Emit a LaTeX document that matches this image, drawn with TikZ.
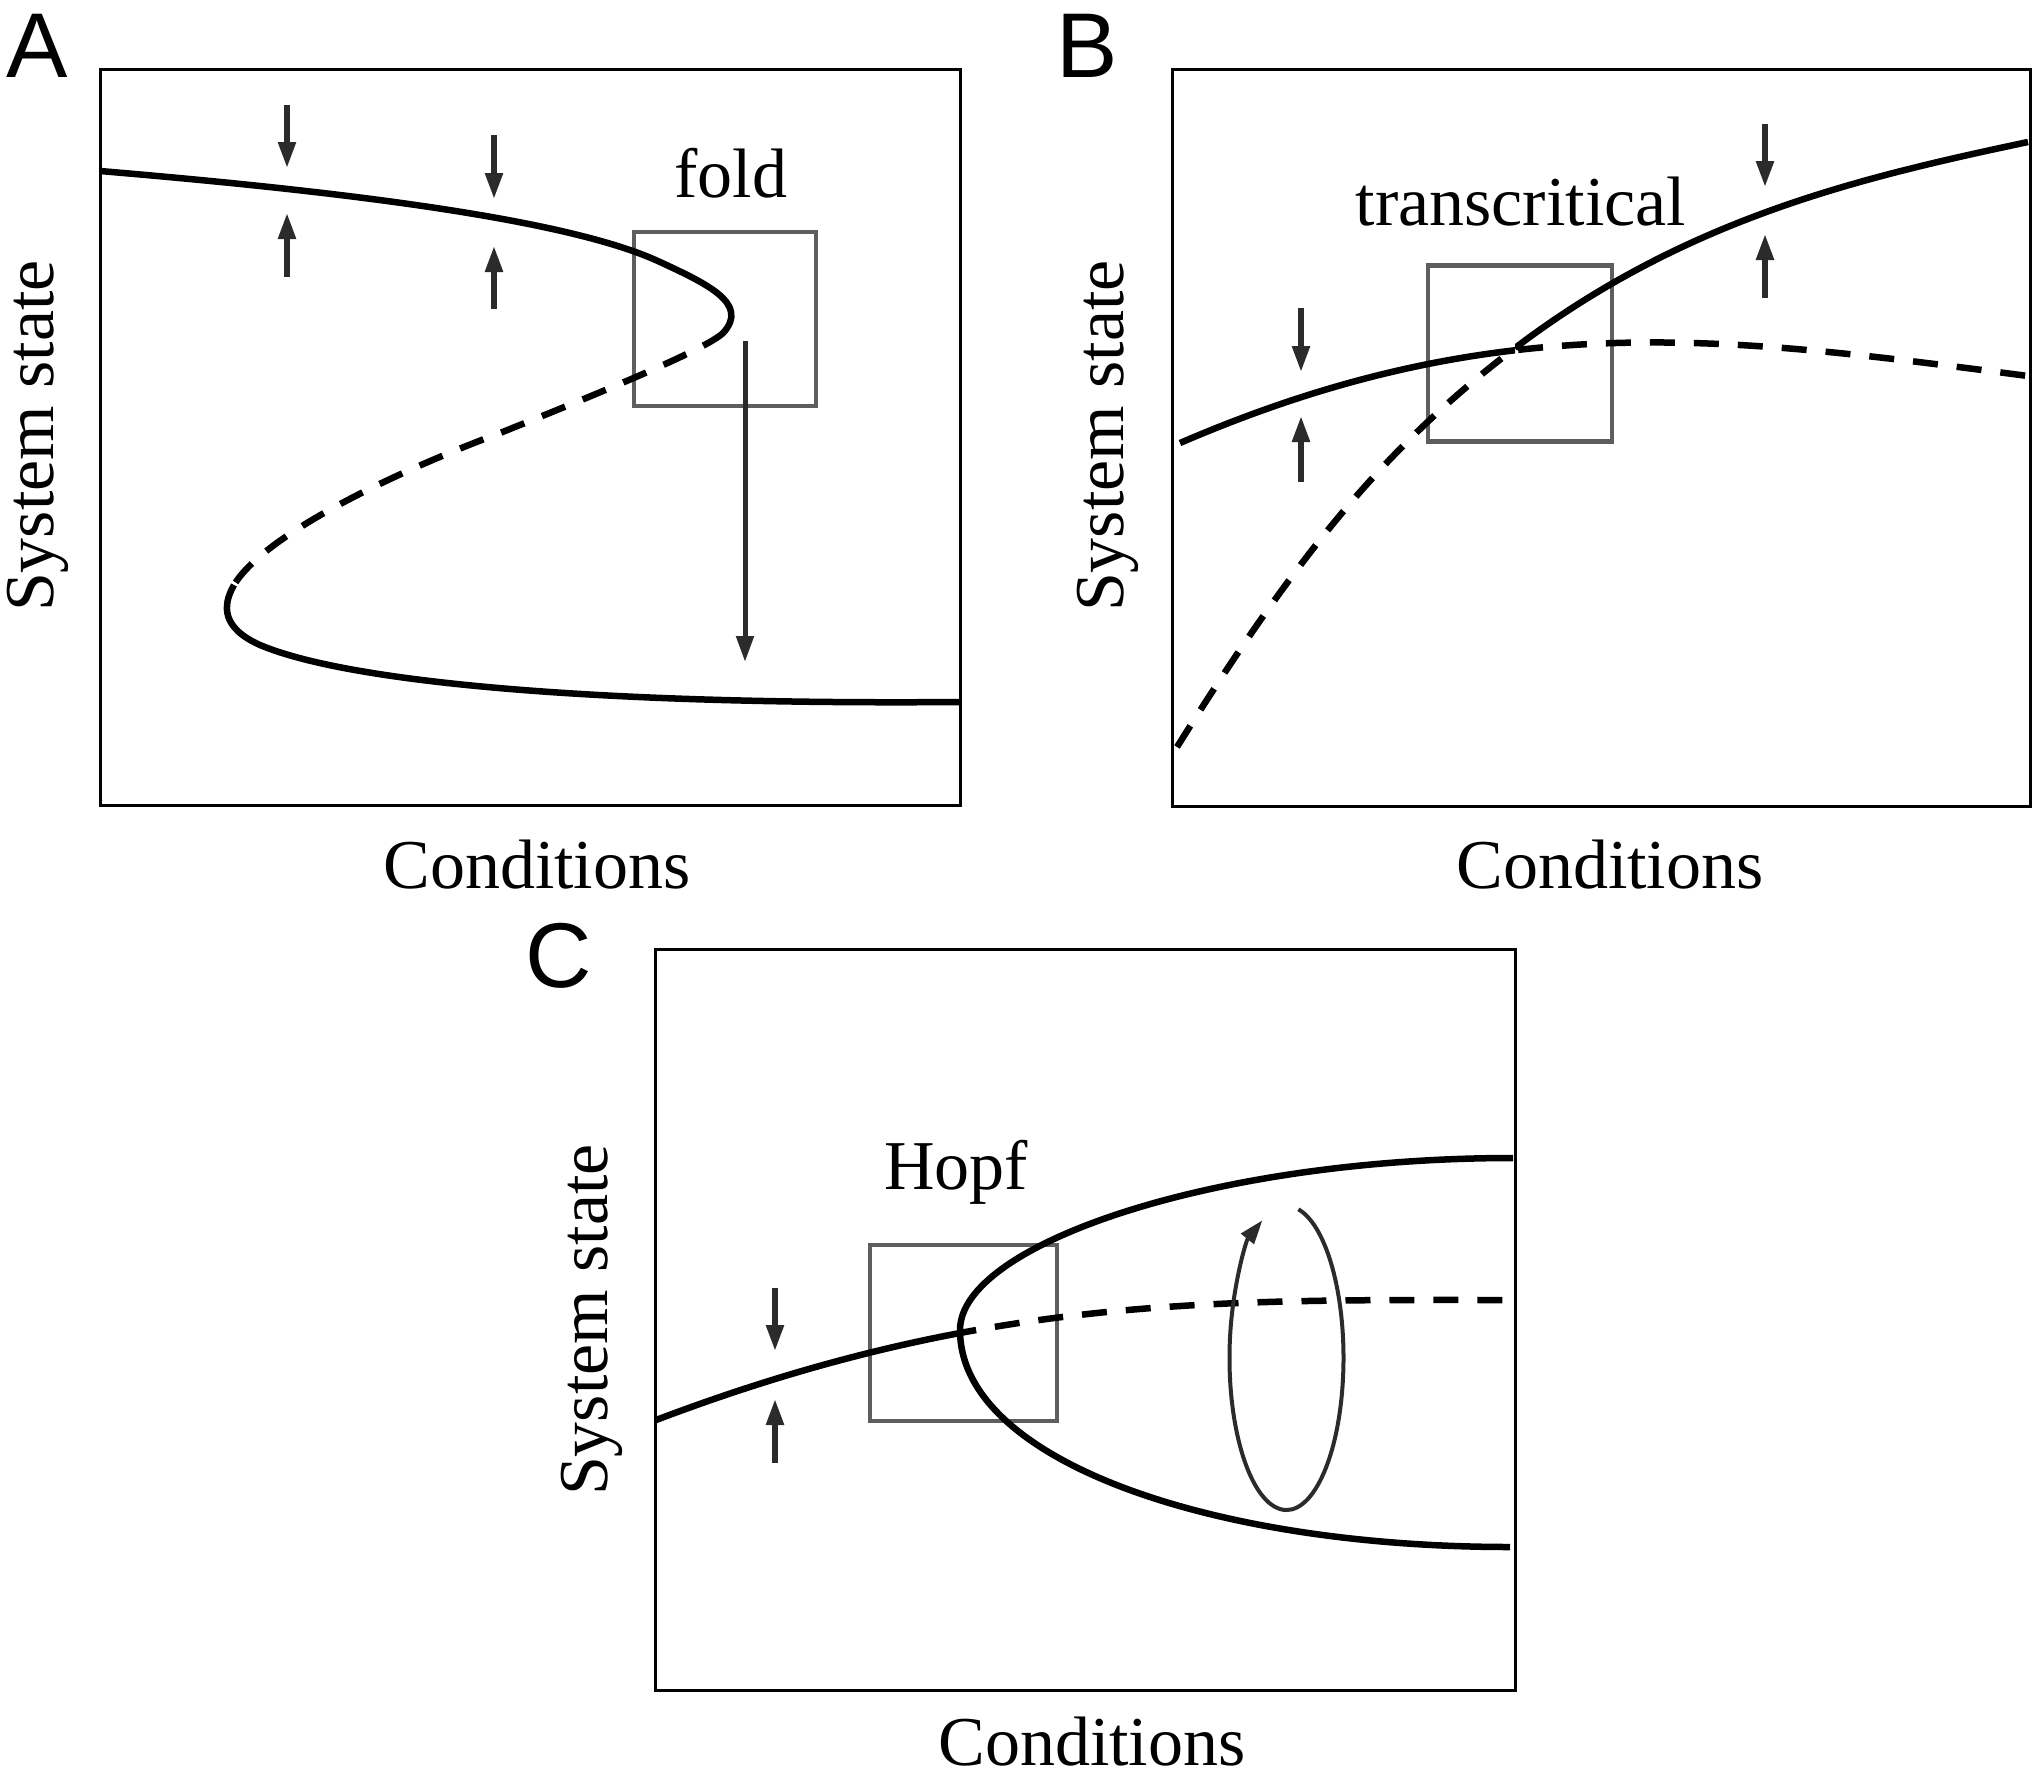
\documentclass[tikz,border=0pt]{standalone}
\usepackage{fontspec}
\setmainfont{Liberation Serif}
\newfontfamily\panelfont{Liberation Sans}
\usetikzlibrary{arrows.meta}
\definecolor{boxgray}{HTML}{5E5E5E}
\definecolor{arrgray}{HTML}{2B2B2B}
\begin{document}
\begin{tikzpicture}[x=1pt,y=-1pt,
  frame/.style={draw=black,line width=3pt},
  zoombox/.style={draw=boxgray,line width=4.5pt},
  branch/.style={line width=6.5pt},
  unstable/.style={branch,dash pattern=on 25pt off 19pt},
  stab/.style={draw=arrgray,line width=5.5pt,-{Triangle[length=26pt,width=17pt]}},
  cyc/.style={draw=arrgray,line width=4pt,-{Triangle[length=24pt,width=16pt]}},
  lbl/.style={font=\fontsize{70}{80}\selectfont,inner sep=0pt},
  panel/.style={font=\panelfont\fontsize{92}{100}\selectfont,inner sep=0pt,anchor=base}]
\useasboundingbox (0,0) rectangle (2035,1780);

% ---------- Panel A ----------
\draw[frame] (100.5,69) rectangle (960,805.5);
\node[panel] (labA) at (37.5,77) {A};
\draw[zoombox] (634,232) rectangle (816,406);
\draw[branch] (100,171) .. controls (300,188) and (560,215) .. (660,262)
  .. controls (710,285) and (748,304) .. (724,332);
\draw[unstable] (724,332) .. controls (712,346) and (620,385) .. (500,433)
  .. controls (380,478) and (262,538) .. (234,585);
\draw[branch] (234,585) .. controls (222,606) and (222,628) .. (260,645)
  .. controls (350,683) and (600,705) .. (960,702);
\draw[stab] (287,105) -- (287,168);
\draw[stab] (287,277) -- (287,213);
\draw[stab] (494,135) -- (494,199);
\draw[stab] (494,309) -- (494,246);
\draw[stab,line width=5pt] (745,341) -- (745,662);
\node[lbl,anchor=base] (foldA) at (731,197) {fold};
\node[lbl,rotate=90] (ysA) at (38,436) {System state};
\node[lbl,anchor=base] (xA) at (537,888) {Conditions};

% ---------- Panel B ----------
\draw[frame] (1172,69) rectangle (2030,806);
\node[panel] (labB) at (1087.5,77) {B};
\draw[zoombox] (1428,265.5) rectangle (1612,441.5);
\begin{scope}
  \clip (1100,0) rectangle (1515,800);
  \draw[branch] (1180,443) .. controls (1500,305) and (1728,337) .. (2028,376);
  \draw[unstable] (1177,747) .. controls (1297,555) and (1385,447) .. (1515,348);
\end{scope}
\begin{scope}
  \clip (1515,0) rectangle (2035,800);
  \draw[unstable] (1180,443) .. controls (1500,305) and (1728,337) .. (2028,376);
  \draw[branch] (1515,348) .. controls (1685,219) and (1858,178) .. (2028,142);
\end{scope}
\draw[stab] (1301,308) -- (1301,372);
\draw[stab] (1301,482) -- (1301,416);
\draw[stab] (1765,124) -- (1765,187);
\draw[stab] (1765,298) -- (1765,234);
\node[lbl,anchor=base] (tcB) at (1521,225) {transcritical};
\node[lbl,rotate=90] (ysB) at (1108,436) {System state};
\node[lbl,anchor=base] (xB) at (1610,888) {Conditions};

% ---------- Panel C ----------
\draw[frame] (655,949) rectangle (1515.5,1690);
\node[panel] (labC) at (558.5,987) {C};
\draw[zoombox] (870,1245) rectangle (1057,1421);
\begin{scope}
  \clip (600,1100) rectangle (962,1500);
  \draw[branch] (656,1420) .. controls (986,1295) and (1213,1300) .. (1513,1300);
\end{scope}
\begin{scope}
  \clip (962,1100) rectangle (1520,1500);
  \draw[unstable] (656,1420) .. controls (986,1295) and (1213,1300) .. (1513,1300);
\end{scope}
\draw[branch] (1513,1158) .. controls (1212,1158) and (960,1245) .. (960,1330)
  .. controls (960,1460) and (1210,1547) .. (1510,1547);
\coordinate (cycC) at (1286.5,1358);
\draw[cyc] (cycC) ++(-78:57 and 152) arc[start angle=-78,end angle=245,x radius=57,y radius=152];
\draw[stab] (775,1288) -- (775,1351);
\draw[stab] (775,1463) -- (775,1399);
\node[lbl,anchor=base] (hopfC) at (956,1189) {Hopf};
\node[lbl,rotate=90] (ysC) at (592,1320) {System state};
\node[lbl,anchor=base] (xC) at (1092,1765) {Conditions};
\end{tikzpicture}
\end{document}
